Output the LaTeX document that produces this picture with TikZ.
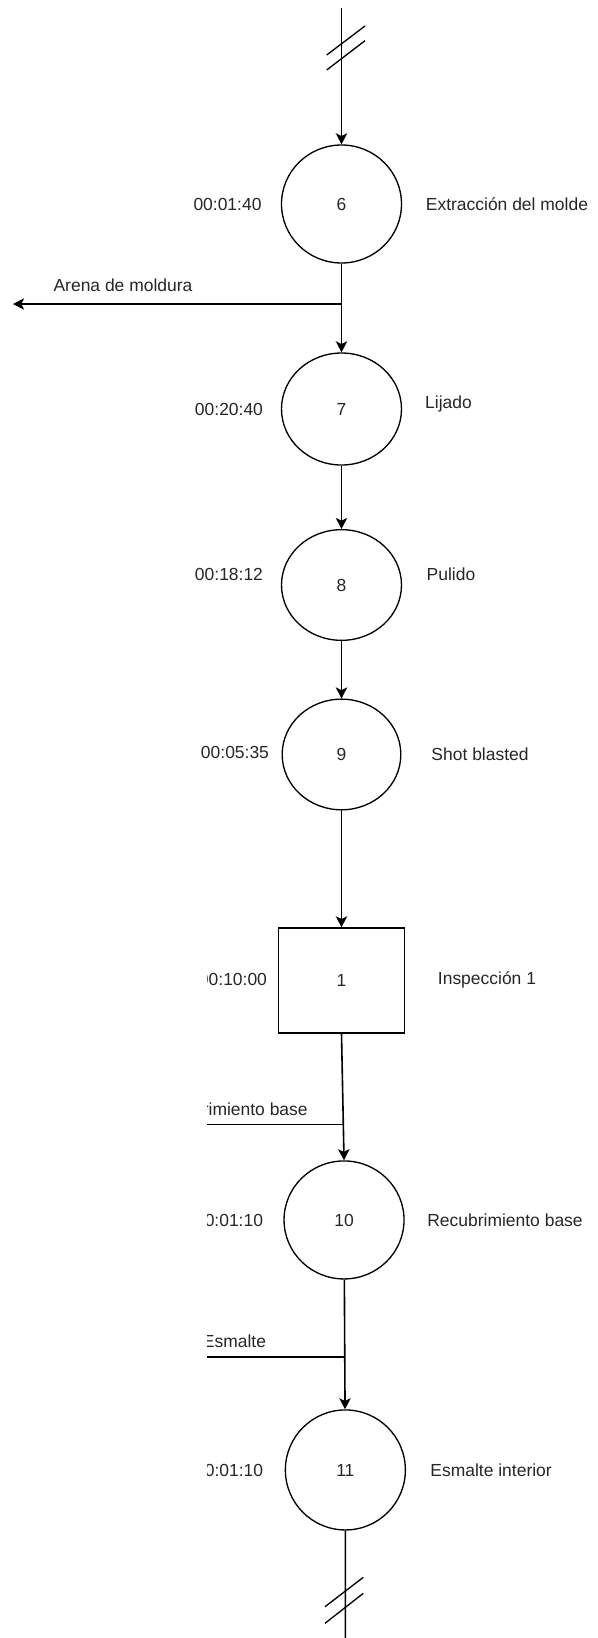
\documentclass[tikz,border=0pt]{standalone}
\usepackage{fontspec}
\setmainfont{Liberation Sans}
\usetikzlibrary{shapes.geometric}
\usetikzlibrary{positioning}
\usetikzlibrary{arrows.meta}
\tikzset{every picture/.style={line width=1pt},
  proc/.style={ellipse, draw, minimum width=90pt, inner sep=0pt},
  insp/.style={rectangle, draw, minimum width=94.5pt, minimum height=78.75pt, inner sep=0pt},
  txt/.style={inner sep=0pt, text=black!85, text height=9.4pt, text depth=0pt, font=\fontsize{13.1}{15}\selectfont},
  flow/.style={line width=1.2pt, -{Stealth[length=8.25pt,width=8.5pt,inset=2pt]}},
  wire/.style={line width=1.2pt}}
\begin{document}
\begin{tikzpicture}[x=0.75pt, y=-0.75pt]
    \useasboundingbox (0,0) rectangle (597,1638);

    \node (p6) [proc, minimum height=88.5pt, txt] at (341.5,204) {6};
    \node (p7) [below of=p6, node distance=153.75pt, proc, minimum height=84pt, txt] {7};
    \node (p8) [below of=p7, node distance=132pt, proc, minimum height=83pt, txt] {8};
    \node (p9) [below of=p8, node distance=127.1pt, proc, minimum width=89pt, minimum height=83pt, txt] {9};
    \node (i1) [below of=p9, node distance=169.5pt, insp, txt] {1};
    \node (p10) [below of=i1, node distance=179.6pt, xshift=1.9pt, proc, minimum height=88.5pt, txt] {10};
    \node (p11) [below of=p10, node distance=187.5pt, xshift=1pt, proc, minimum height=90pt, txt] {11};

    \node (t6) [left of=p6, node distance=85.5pt, txt] {00:01:40};
    \node (t7) [left of=p7, node distance=84.4pt, txt] {00:20:40};
    \node (t8) [left of=p8, node distance=84.4pt, yshift=8.25pt, txt] {00:18:12};
    \node (t9) [left of=p9, node distance=79.9pt, yshift=1.4pt, txt] {00:05:35};

    \node (n6) [right of=p6, node distance=124.1pt, txt] {Extracción del molde};
    \node (n7) [right of=p7, node distance=80.25pt, yshift=5.25pt, txt] {Lijado};
    \node (n8) [right of=p8, node distance=82.1pt, yshift=8.25pt, txt] {Pulido};
    \node (n9) [right of=p9, node distance=103.9pt, txt] {Shot blasted};
    \node (n1) [right of=i1, node distance=109.1pt, yshift=2pt, txt] {Inspección 1};
    \node (n10) [right of=p10, node distance=120.75pt, txt] {Recubrimiento base};
    \node (n11) [right of=p11, node distance=109.3pt, txt] {Esmalte interior};

    \coordinate (top) at (341.5,8);
    \coordinate (bot) at (345.3,1638);
    \coordinate (a1) at (13,304);
    \coordinate (a0) at (p6 |- a1);
    \node (arena) [txt] at (123,285) {Arena de moldura};

    \draw[flow] (top) -- (p6);
    \draw[flow] (p6) -- (p7);
    \draw[flow] (a0) -- (a1);
    \draw[flow] (p7) -- (p8);
    \draw[flow] (p8) -- (p9);
    \draw[flow] (p9) -- (i1);
    \draw[flow] (i1.south) -- (p10.north);
    \draw[flow] (p10) -- (p11);
    \draw[wire] (p11) -- (bot);

    % cortes de linea
    \draw (326.7,55) -- (365,26);
    \draw (326.7,70) -- (365,40.7);
    \draw (325,1606.7) -- (363.3,1577.3);
    \draw (325,1623.3) -- (363.3,1593.3);

    \begin{scope}
    \clip (207,860) rectangle (597,1638);
    \node (t1) [left of=i1, node distance=81.4pt, yshift=1pt, txt] {00:10:00};
    \node (t10) [left of=p10, node distance=86.25pt, txt] {00:01:10};
    \node (t11) [left of=p11, node distance=87.2pt, txt] {00:01:10};
    \coordinate (rb) at (150,1124.3);
    \draw[wire] (rb) -- (rb -| p10);
    \node (rbl) [txt] at (230,1109) {Recubrimiento base};
    \coordinate (es) at (150,1356.7);
    \draw[wire] (es) -- (es -| p11);
    \node (esl) [txt] at (234.5,1341) {Esmalte};
    \end{scope}
\end{tikzpicture}
\end{document}
